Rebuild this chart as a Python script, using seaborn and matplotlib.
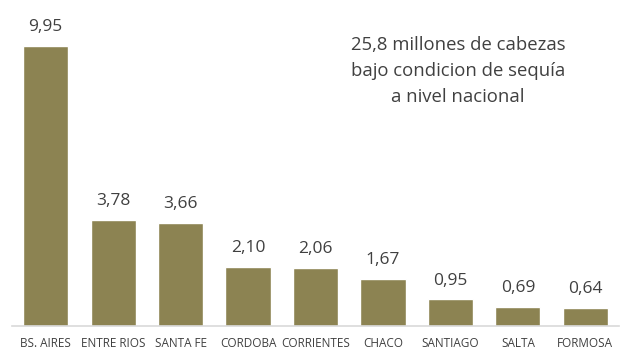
import matplotlib
matplotlib.use("Agg")
import matplotlib.pyplot as plt
import seaborn as sns
import pandas as pd

# Datos: millones de cabezas bajo condicion de sequia por provincia
provincias = ['BS. AIRES', 'ENTRE RIOS', 'SANTA FE', 'CORDOBA', 'CORRIENTES',
              'CHACO', 'SANTIAGO', 'SALTA', 'FORMOSA']
cabezas = [9.95, 3.78, 3.66, 2.10, 2.06, 1.67, 0.95, 0.69, 0.64]

df = pd.DataFrame({'provincia': provincias, 'cabezas': cabezas})

sns.set_style("white")
plt.rcParams['font.family'] = ['Open Sans', 'DejaVu Sans']

fig = plt.figure(figsize=(6.42, 3.57), dpi=100)
ax = fig.add_axes([12/642, 31/357, 607/642, 326/357])

sns.barplot(ax=ax, data=df, x='provincia', y='cabezas', color='#8C8352',
            width=0.67, saturation=1)

for i, v in enumerate(cabezas):
    ax.text(i, v + 0.38, f'{v:.2f}'.replace('.', ','), ha='center', va='bottom',
            fontsize=12.5, color='#404040')

ax.set_ylim(0, 11.58)
ax.set_xlim(-0.5, 8.5)
ax.set_yticks([])
ax.set_xlabel('')
ax.set_ylabel('')
ax.tick_params(axis='x', length=0, labelsize=8.5, labelcolor='#404040', pad=8)

for side in ['top', 'right', 'left']:
    ax.spines[side].set_visible(False)
ax.spines['bottom'].set_color('#D9D9D9')
ax.spines['bottom'].set_linewidth(1.2)

fig.text(458/642, 1 - 71/357,
         '25,8 millones de cabezas\nbajo condicion de sequía\na nivel nacional',
         ha='center', va='center', fontsize=13.3, color='#404040', linespacing=1.55)

plt.savefig('out.png', dpi=100)
